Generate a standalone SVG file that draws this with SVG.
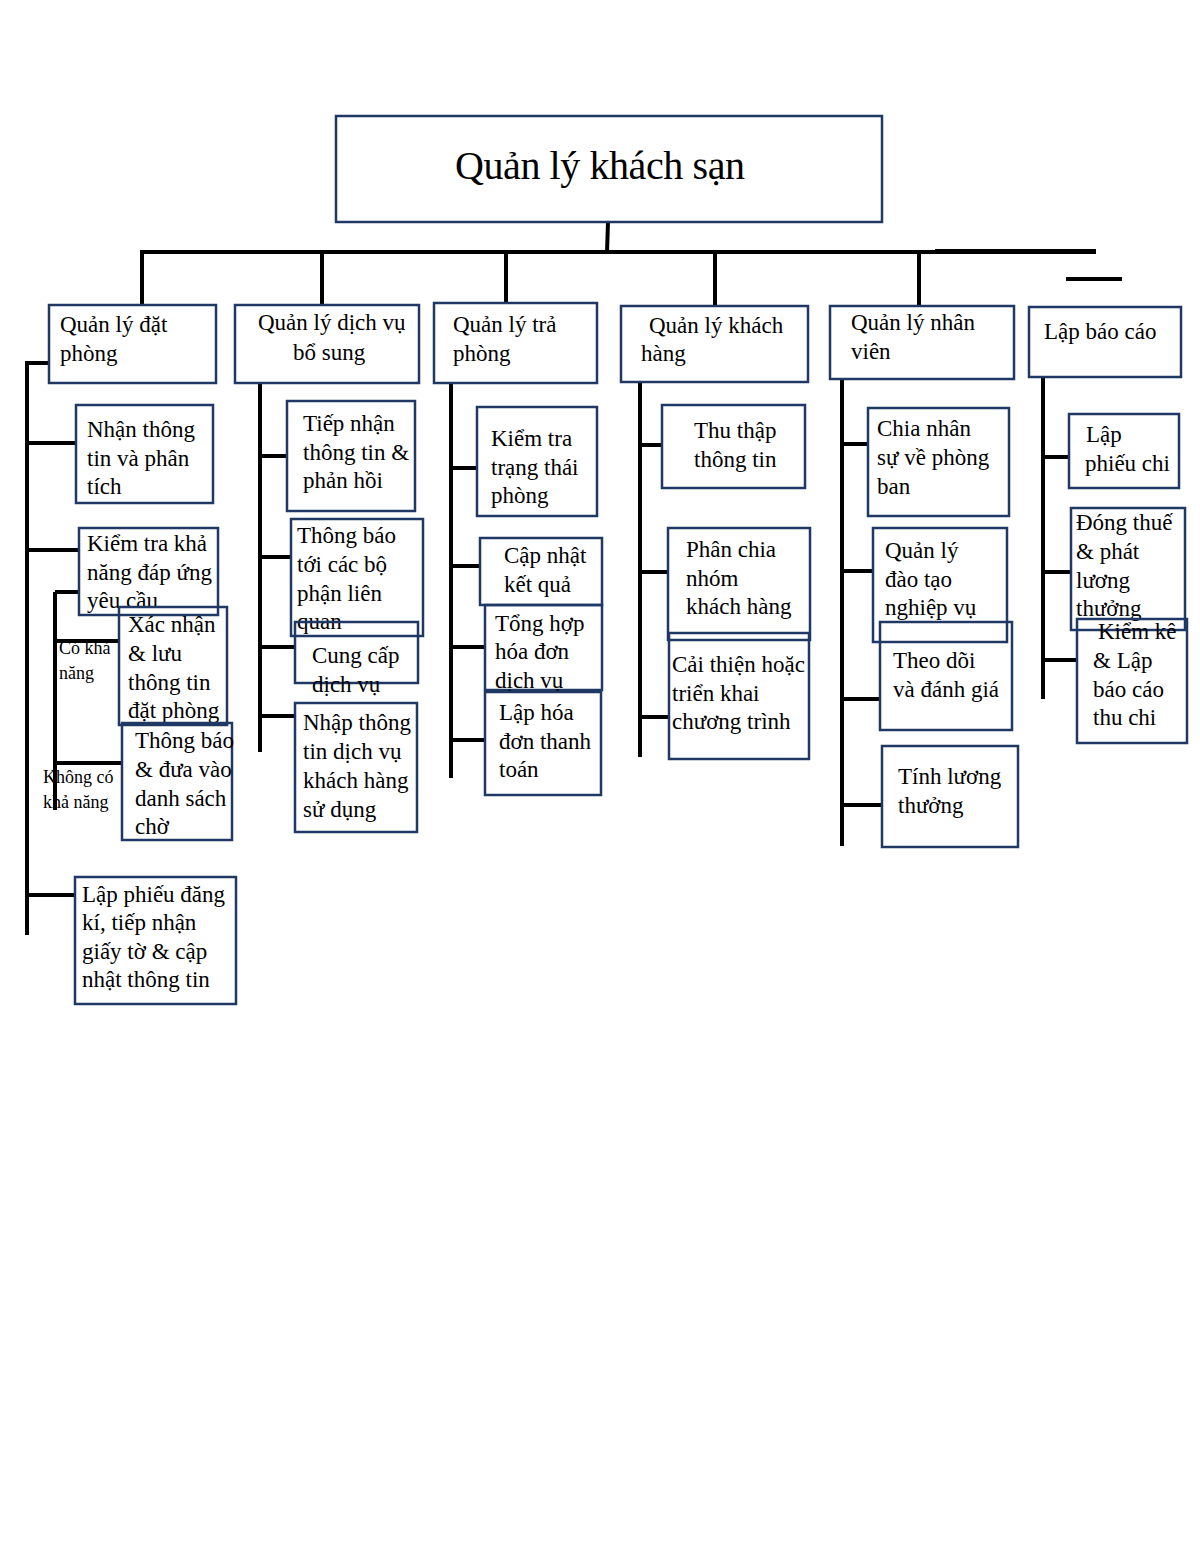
<svg xmlns="http://www.w3.org/2000/svg" width="1200" height="1553" viewBox="0 0 1200 1553">
<style>
.box{fill:none;stroke:#1f3864;stroke-width:2.5}
.t{font-family:"Liberation Serif","Times New Roman",serif;font-size:23px;fill:#000}
.s{font-family:"Liberation Serif","Times New Roman",serif;font-size:18px;fill:#000}
.ttl{font-family:"Liberation Serif","Times New Roman",serif;font-size:40px;fill:#000}
.c{stroke:#000;stroke-width:4;fill:none}
</style>
<rect width="1200" height="1553" fill="#fff"/>
<g id="connectors">
<path class="c" d="M608,222 L607,252 M140,252 L1096,252 M142,252 V305 M322,252 V305 M506,252 V303 M715,252 V306 M919,252 V306"/>
<path class="c" stroke-width="5" d="M935,251 H1096"/>
<path class="c" d="M1066,279 H1122"/>
<path class="c" d="M27,363 V935 M25,363 H49 M27,443 H76 M27,550 H79 M27,895 H75"/>
<path class="c" d="M55,592 V810 M55,592 H79 M55,641 H119 M55,763 H122"/>
<path class="c" d="M260,383 V752 M260,456 H287 M260,557 H291 M260,647 H295 M260,716 H295"/>
<path class="c" d="M451,383 V778 M451,468 H477 M451,566 H480 M451,647 H485 M451,740 H485"/>
<path class="c" d="M640,382 V757 M640,445 H662 M640,572 H668 M640,717 H669"/>
<path class="c" d="M842,379 V846 M842,444 H868 M842,571 H873 M842,699 H880 M842,805 H882"/>
<path class="c" d="M1043,377 V699 M1043,457 H1069 M1043,572 H1071 M1043,660 H1077"/>
</g>
<g id="root">
<rect class="box" x="336" y="116" width="546" height="106"/>
<text class="ttl" x="600" y="179" text-anchor="middle" textLength="290">Quản lý khách sạn</text>
</g>
<g id="n1">
<rect class="box" x="49" y="305" width="167" height="78"/>
<text class="t" x="60" y="332">Quản lý đặt</text>
<text class="t" x="60" y="361">phòng</text>
</g>
<g id="n1a">
<rect class="box" x="76" y="405" width="137" height="98"/>
<text class="t" x="87" y="437">Nhận thông</text>
<text class="t" x="87" y="466">tin và phân</text>
<text class="t" x="87" y="494">tích</text>
</g>
<g id="n1b">
<rect class="box" x="79" y="528" width="139" height="87"/>
<text class="t" x="87" y="551">Kiểm tra khả</text>
<text class="t" x="87" y="580">năng đáp ứng</text>
<text class="t" x="87" y="608">yêu cầu</text>
</g>
<g id="n1b1">
<rect class="box" x="119" y="607" width="108" height="118"/>
<text class="t" x="128" y="632">Xác nhận</text>
<text class="t" x="128" y="661">&amp; lưu</text>
<text class="t" x="128" y="690">thông tin</text>
<text class="t" x="128" y="718">đặt phòng</text>
</g>
<g id="n1b2">
<rect class="box" x="122" y="723" width="110" height="117"/>
<text class="t" x="135" y="748">Thông báo</text>
<text class="t" x="135" y="777">&amp; đưa vào</text>
<text class="t" x="135" y="806">danh sách</text>
<text class="t" x="135" y="834">chờ</text>
</g>
<g id="labels1">
<text class="s" x="59" y="654">Có khả</text>
<text class="s" x="59" y="679">năng</text>
<text class="s" x="43" y="783">Không có</text>
<text class="s" x="43" y="808">khả năng</text>
</g>
<g id="n1c">
<rect class="box" x="75" y="877" width="161" height="127"/>
<text class="t" x="82" y="902">Lập phiếu đăng</text>
<text class="t" x="82" y="930">kí, tiếp nhận</text>
<text class="t" x="82" y="959">giấy tờ &amp; cập</text>
<text class="t" x="82" y="987">nhật thông tin</text>
</g>
<g id="n2">
<rect class="box" x="235" y="305" width="184" height="78"/>
<text class="t" x="258" y="330">Quản lý dịch vụ</text>
<text class="t" x="293" y="360">bổ sung</text>
</g>
<g id="n2a">
<rect class="box" x="287" y="401" width="128" height="110"/>
<text class="t" x="303" y="431">Tiếp nhận</text>
<text class="t" x="303" y="460">thông tin &amp;</text>
<text class="t" x="303" y="488">phản hồi</text>
</g>
<g id="n2b">
<rect class="box" x="291" y="519" width="132" height="117"/>
<text class="t" x="297" y="543">Thông báo</text>
<text class="t" x="297" y="572">tới các bộ</text>
<text class="t" x="297" y="601">phận liên</text>
<text class="t" x="297" y="629">quan</text>
</g>
<g id="n2c">
<rect class="box" x="295" y="622" width="123" height="61"/>
<text class="t" x="312" y="663">Cung cấp</text>
<text class="t" x="312" y="692">dịch vụ</text>
</g>
<g id="n2d">
<rect class="box" x="295" y="703" width="122" height="129"/>
<text class="t" x="303" y="730">Nhập thông</text>
<text class="t" x="303" y="759">tin dịch vụ</text>
<text class="t" x="303" y="788">khách hàng</text>
<text class="t" x="303" y="817">sử dụng</text>
</g>
<g id="n3">
<rect class="box" x="434" y="303" width="163" height="80"/>
<text class="t" x="453" y="332">Quản lý trả</text>
<text class="t" x="453" y="361">phòng</text>
</g>
<g id="n3a">
<rect class="box" x="477" y="407" width="120" height="109"/>
<text class="t" x="491" y="446">Kiểm tra</text>
<text class="t" x="491" y="475">trạng thái</text>
<text class="t" x="491" y="503">phòng</text>
</g>
<g id="n3b">
<rect class="box" x="480" y="538" width="122" height="67"/>
<text class="t" x="504" y="563">Cập nhật</text>
<text class="t" x="504" y="592">kết quả</text>
</g>
<g id="n3c">
<rect class="box" x="485" y="605" width="117" height="85"/>
<text class="t" x="495" y="631">Tổng hợp</text>
<text class="t" x="495" y="659">hóa đơn</text>
<text class="t" x="495" y="688">dịch vụ</text>
</g>
<g id="n3d">
<rect class="box" x="485" y="692" width="116" height="103"/>
<text class="t" x="499" y="720">Lập hóa</text>
<text class="t" x="499" y="749">đơn thanh</text>
<text class="t" x="499" y="777">toán</text>
</g>
<g id="n4">
<rect class="box" x="621" y="306" width="187" height="76"/>
<text class="t" x="649" y="333">Quản lý khách</text>
<text class="t" x="641" y="361">hàng</text>
</g>
<g id="n4a">
<rect class="box" x="662" y="405" width="143" height="83"/>
<text class="t" x="694" y="438">Thu thập</text>
<text class="t" x="694" y="467">thông tin</text>
</g>
<g id="n4b">
<rect class="box" x="668" y="528" width="142" height="112"/>
<text class="t" x="686" y="557">Phân chia</text>
<text class="t" x="686" y="586">nhóm</text>
<text class="t" x="686" y="614">khách hàng</text>
</g>
<g id="n4c">
<rect class="box" x="669" y="633" width="140" height="126"/>
<text class="t" x="672" y="672">Cải thiện hoặc</text>
<text class="t" x="672" y="701">triển khai</text>
<text class="t" x="672" y="729">chương trình</text>
</g>
<g id="n5">
<rect class="box" x="830" y="306" width="184" height="73"/>
<text class="t" x="851" y="330">Quản lý nhân</text>
<text class="t" x="851" y="359">viên</text>
</g>
<g id="n5a">
<rect class="box" x="868" y="408" width="141" height="108"/>
<text class="t" x="877" y="436">Chia nhân</text>
<text class="t" x="877" y="465">sự về phòng</text>
<text class="t" x="877" y="494">ban</text>
</g>
<g id="n5b">
<rect class="box" x="873" y="528" width="134" height="114"/>
<text class="t" x="885" y="558">Quản lý</text>
<text class="t" x="885" y="587">đào tạo</text>
<text class="t" x="885" y="615">nghiệp vụ</text>
</g>
<g id="n5c">
<rect class="box" x="880" y="622" width="132" height="108"/>
<text class="t" x="893" y="668">Theo dõi</text>
<text class="t" x="893" y="697">và đánh giá</text>
</g>
<g id="n5d">
<rect class="box" x="882" y="746" width="136" height="101"/>
<text class="t" x="898" y="784">Tính lương</text>
<text class="t" x="898" y="813">thưởng</text>
</g>
<g id="n6">
<rect class="box" x="1029" y="307" width="152" height="70"/>
<text class="t" x="1044" y="339">Lập báo cáo</text>
</g>
<g id="n6a">
<rect class="box" x="1069" y="414" width="110" height="74"/>
<text class="t" x="1086" y="442">Lập</text>
<text class="t" x="1085" y="471">phiếu chi</text>
</g>
<g id="n6b">
<rect class="box" x="1071" y="508" width="114" height="122"/>
<text class="t" x="1076" y="530">Đóng thuế</text>
<text class="t" x="1076" y="559">&amp; phát</text>
<text class="t" x="1076" y="588">lương</text>
<text class="t" x="1076" y="616">thưởng</text>
</g>
<g id="n6c">
<rect class="box" x="1077" y="619" width="110" height="124"/>
<text class="t" x="1098" y="639">Kiểm kê</text>
<text class="t" x="1093" y="668">&amp; Lập</text>
<text class="t" x="1093" y="697">báo cáo</text>
<text class="t" x="1093" y="725">thu chi</text>
</g>
</svg>
